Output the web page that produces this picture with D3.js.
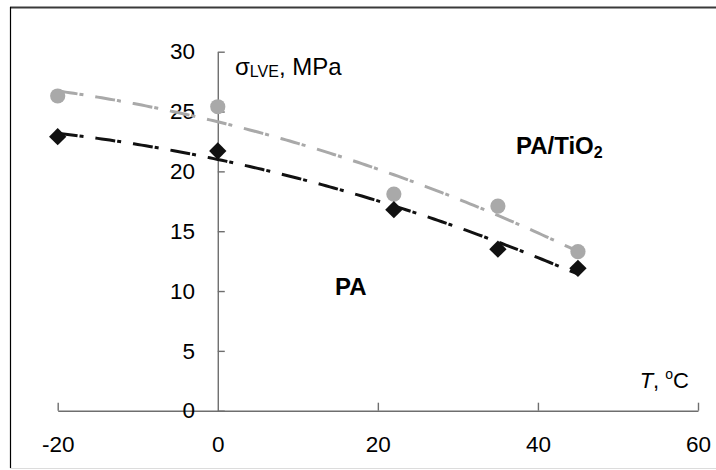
<!DOCTYPE html>
<html>
<head>
<meta charset="utf-8">
<script src="https://cdn.jsdelivr.net/npm/d3@7"></script>
<style>
  html, body { margin: 0; padding: 0; background: #fff; }
  svg { display: block; font-family: "Liberation Sans", Arial, sans-serif; }
</style>
</head>
<body>
<svg id="chart" width="716" height="470"></svg>
<script>
// Test temperatures, °C
const temps = [-20, 0, 22, 35, 45];
// Limit of linear viscoelasticity, MPa
const sigmaPA = [22.9, 21.7, 16.8, 13.5, 11.9];
const sigmaPATiO2 = [26.3, 25.4, 18.1, 17.1, 13.3];
// Axis ticks
const xTicks = [-20, 0, 20, 40, 60];
const yTicks = [0, 5, 10, 15, 20, 25, 30];

const svg = d3.select("#chart");
const W = 716, H = 470;

svg.append("rect").attr("width", W).attr("height", H).attr("fill", "#fff");

// Outer chart frame
svg.append("line").attr("x1", 10).attr("x2", W).attr("y1", 7.5).attr("y2", 7.5)
  .attr("stroke", "#3a3a3a").attr("stroke-width", 2);
svg.append("line").attr("x1", 10.5).attr("x2", 10.5).attr("y1", 7).attr("y2", 468)
  .attr("stroke", "#000").attr("stroke-width", 1.2);
svg.append("line").attr("x1", 10).attr("x2", W).attr("y1", 468.5).attr("y2", 468.5)
  .attr("stroke", "#dcdcdc").attr("stroke-width", 1);

const x = d3.scaleLinear().domain([-20, 60]).range([57.7, 698]);
const y = d3.scaleLinear().domain([0, 30]).range([410.7, 51.7]);

const axisColor = "#6e6e6e";
const fmt = d => String(d);

// X axis through y = 0, ticks pointing up
const gx = svg.append("g").attr("transform", `translate(0,${y(0)})`)
  .call(d3.axisBottom(x).tickValues(xTicks).tickSizeInner(-8).tickSizeOuter(0)
    .tickPadding(25).tickFormat(fmt));
// Y axis through x = 0, ticks pointing right
const gy = svg.append("g").attr("transform", `translate(${x(0)},0)`)
  .call(d3.axisLeft(y).tickValues(yTicks).tickSizeInner(-7).tickSizeOuter(0)
    .tickPadding(22.7).tickFormat(fmt));

[gx, gy].forEach(g => {
  g.select(".domain").attr("stroke", axisColor).attr("stroke-width", 1.4);
  g.selectAll(".tick line").attr("stroke", axisColor).attr("stroke-width", 1.4);
  g.selectAll(".tick text").attr("fill", "#000").attr("font-size", 22.5)
    .attr("font-family", "Liberation Sans, Arial, sans-serif");
});
// The x-axis zero tick coincides with the y axis
gx.selectAll(".tick").filter(d => d === 0).select("line").attr("stroke-width", 0);

// Quadratic least-squares trend line
function quadFit(xs, ys) {
  const n = xs.length;
  let s = [0, 0, 0, 0, 0], t = [0, 0, 0];
  for (let i = 0; i < n; i++) {
    for (let k = 0; k < 5; k++) s[k] += Math.pow(xs[i], k);
    for (let k = 0; k < 3; k++) t[k] += ys[i] * Math.pow(xs[i], k);
  }
  const A = [[s[0], s[1], s[2], t[0]], [s[1], s[2], s[3], t[1]], [s[2], s[3], s[4], t[2]]];
  for (let c = 0; c < 3; c++) {
    let p = c;
    for (let r = c + 1; r < 3; r++) if (Math.abs(A[r][c]) > Math.abs(A[p][c])) p = r;
    [A[c], A[p]] = [A[p], A[c]];
    for (let r = 0; r < 3; r++) {
      if (r === c) continue;
      const f = A[r][c] / A[c][c];
      for (let k = c; k < 4; k++) A[r][k] -= f * A[c][k];
    }
  }
  const coef = A.map((row, i) => row[3] / row[i]);
  return v => coef[0] + coef[1] * v + coef[2] * v * v;
}

const series = [
  { values: sigmaPATiO2, color: "#a9a9a9", marker: "circle" },
  { values: sigmaPA, color: "#111111", marker: "diamond" }
];

const line = d3.line().x(d => x(d[0])).y(d => y(d[1]));

series.forEach(s => {
  const f = quadFit(temps, s.values);
  const pts = d3.range(d3.min(temps), d3.max(temps) + 0.001, 0.5).map(v => [v, f(v)]);
  svg.append("path").datum(pts)
    .attr("d", line).attr("fill", "none")
    .attr("stroke", s.color).attr("stroke-width", 3)
    .attr("stroke-dasharray", "20,2,4,12");
});

series.forEach(s => {
  const g = svg.append("g");
  temps.forEach((t, i) => {
    if (s.marker === "circle") {
      g.append("circle").attr("cx", x(t)).attr("cy", y(s.values[i])).attr("r", 7.6)
        .attr("fill", s.color);
    } else {
      g.append("path")
        .attr("d", d3.symbol().type(d3.symbolSquare).size(150)())
        .attr("transform", `translate(${x(t)},${y(s.values[i])}) rotate(45)`)
        .attr("fill", s.color);
    }
  });
});

// Axis titles
const yt = svg.append("text").attr("x", 235).attr("y", 75).attr("font-size", 24).attr("fill", "#000");
yt.append("tspan").text("σ");
yt.append("tspan").attr("font-size", 16).attr("dy", 2).text("LVE");
yt.append("tspan").attr("dy", -2).text(", MPa");

const xt = svg.append("text").attr("x", 689).attr("y", 388).attr("text-anchor", "end")
  .attr("font-size", 22).attr("fill", "#000");
xt.append("tspan").attr("font-style", "italic").text("T");
xt.append("tspan").text(", ");
xt.append("tspan").attr("font-size", 14).attr("dy", -9).text("o");
xt.append("tspan").attr("dy", 9).text("C");

// Series labels
const l1 = svg.append("text").attr("x", 516).attr("y", 154).attr("font-size", 24)
  .attr("font-weight", "bold").attr("fill", "#000");
l1.append("tspan").text("PA/TiO");
l1.append("tspan").attr("font-size", 16).attr("dy", 4).text("2");

svg.append("text").attr("x", 335).attr("y", 295).attr("font-size", 24)
  .attr("font-weight", "bold").attr("fill", "#000").text("PA");
</script>
</body>
</html>
